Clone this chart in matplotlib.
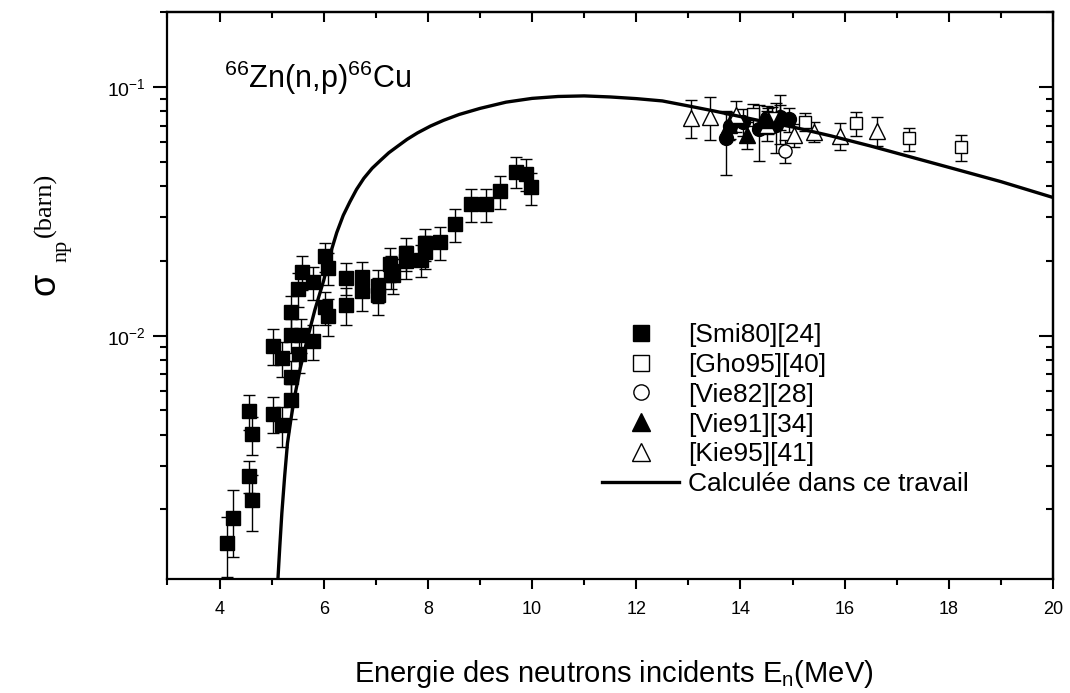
import numpy as np
import matplotlib
matplotlib.use('Agg')
import matplotlib.pyplot as plt
from matplotlib.lines import Line2D
from matplotlib.ticker import MultipleLocator, LogLocator, LogFormatterSciNotation, NullFormatter

plt.rcParams['font.family'] = ['Liberation Sans', 'DejaVu Sans']
plt.rcParams['mathtext.fontset'] = 'custom'
plt.rcParams['mathtext.rm'] = 'Liberation Serif'
plt.rcParams['mathtext.it'] = 'Liberation Sans'
plt.rcParams['mathtext.sf'] = 'Liberation Sans'

# [Smi80][24]  filled squares
smi_E = [4.15, 4.25, 4.57, 4.63, 4.57, 4.63, 5.03, 5.19, 5.03, 5.19,
         5.38, 5.38, 5.38, 5.38, 5.50, 5.59, 5.56, 5.53, 5.79, 5.79,
         6.03, 6.08, 6.03, 6.08, 6.43, 6.43, 6.73, 6.73, 7.04, 7.04,
         7.27, 7.30, 7.33, 7.57, 7.57, 7.87, 7.94, 7.94, 8.23, 8.52,
         8.82, 9.11, 9.39, 9.69, 9.88, 9.98]
smi_s = [1.47e-3, 1.84e-3, 4.99e-3, 4.02e-3, 2.73e-3, 2.19e-3, 9.1e-3, 8.1e-3, 4.85e-3, 4.36e-3,
         1.25e-2, 1.01e-2, 6.8e-3, 5.5e-3, 1.54e-2, 1.81e-2, 1.01e-2, 8.4e-3, 1.64e-2, 9.5e-3,
         2.09e-2, 1.88e-2, 1.30e-2, 1.20e-2, 1.71e-2, 1.33e-2, 1.73e-2, 1.51e-2, 1.59e-2, 1.46e-2,
         1.95e-2, 1.82e-2, 1.75e-2, 2.15e-2, 1.99e-2, 2.02e-2, 2.35e-2, 2.18e-2, 2.38e-2, 2.82e-2,
         3.38e-2, 3.38e-2, 3.81e-2, 4.57e-2, 4.48e-2, 3.95e-2]
smi_err = [0.4e-3, 0.55e-3, 0.8e-3, 0.7e-3, 0.4e-3, 0.55e-3, 1.5e-3, 1.3e-3, 0.8e-3, 0.8e-3,
           2.0e-3, 1.6e-3, 1.1e-3, 0.9e-3, 2.4e-3, 2.8e-3, 1.6e-3, 1.3e-3, 2.5e-3, 1.5e-3,
           2.8e-3, 2.8e-3, 2.0e-3, 2.0e-3, 2.5e-3, 2.3e-3, 2.5e-3, 2.5e-3, 2.4e-3, 2.5e-3,
           3.0e-3, 2.8e-3, 2.8e-3, 3.3e-3, 3.0e-3, 3.0e-3, 3.5e-3, 3.3e-3, 3.6e-3, 4.3e-3,
           5.2e-3, 5.2e-3, 5.8e-3, 6.5e-3, 6.5e-3, 5.8e-3]

# [Gho95][40]  open squares
gho_E = [14.24, 14.60, 15.23, 16.22, 17.23, 18.23]
gho_s = [7.8e-2, 7.5e-2, 7.27e-2, 7.16e-2, 6.22e-2, 5.73e-2]
gho_err = [0.8e-2, 0.8e-2, 0.6e-2, 0.77e-2, 0.66e-2, 0.67e-2]

# [Vie82][28]  open circle
vie82_E = [14.86]
vie82_s = [5.55e-2]
vie82_err = [0.6e-2]

# [Vie91][34]  filled triangles
vie91_E = [13.78, 14.12, 14.52, 14.76]
vie91_s = [7.05e-2, 6.43e-2, 7.38e-2, 7.62e-2]
vie91_err = [0.9e-2, 0.8e-2, 0.9e-2, 0.9e-2]

# [Kie95][41]  open triangles
kie_E = [13.06, 13.42, 13.91, 14.51, 15.03, 15.42, 15.92, 16.62]
kie_s = [7.55e-2, 7.62e-2, 7.7e-2, 7.05e-2, 6.43e-2, 6.63e-2, 6.37e-2, 6.68e-2]
kie_err = [1.3e-2, 1.5e-2, 1.1e-2, 1.0e-2, 0.7e-2, 0.6e-2, 0.8e-2, 0.9e-2]

# extra filled circles (not in legend)
fc_E = [13.72, 13.79, 14.04, 14.36, 14.51, 14.68, 14.75, 14.94]
fc_s = [6.22e-2, 6.98e-2, 7.27e-2, 6.77e-2, 7.5e-2, 7.05e-2, 7.62e-2, 7.43e-2]
fc_err = [1.8e-2, 0.8e-2, 0.9e-2, 1.7e-2, 0.9e-2, 1.6e-2, 1.7e-2, 0.8e-2]

# calculated curve
calc_E = [5.10, 5.12, 5.157, 5.196, 5.25, 5.304, 5.37, 5.44, 5.55, 5.68, 5.83, 6.0, 6.125, 6.25,
          6.375, 6.5, 6.63, 6.77, 6.93, 7.1, 7.25, 7.41, 7.6, 7.8, 8.05, 8.3, 8.6, 9.0, 9.5, 10.0,
          10.5, 11.0, 11.5, 12.0, 12.5, 13.0, 13.5, 14.0, 14.5, 15.0, 15.74, 16.5, 17.0, 18.0,
          19.0, 20.0]
calc_s = [8.9e-4, 1.04e-3, 1.42e-3, 1.93e-3, 2.72e-3, 3.69e-3, 4.6e-3, 5.67e-3, 7.4e-3, 9.6e-3,
          1.27e-2, 1.67e-2, 2.13e-2, 2.6e-2, 3.05e-2, 3.45e-2, 3.88e-2, 4.3e-2, 4.72e-2, 5.1e-2,
          5.45e-2, 5.77e-2, 6.17e-2, 6.55e-2, 6.98e-2, 7.36e-2, 7.77e-2, 8.22e-2, 8.71e-2, 9.02e-2,
          9.18e-2, 9.23e-2, 9.14e-2, 9.0e-2, 8.81e-2, 8.41e-2, 8.02e-2, 7.62e-2, 7.24e-2, 6.92e-2,
          6.37e-2, 5.8e-2, 5.43e-2, 4.76e-2, 4.17e-2, 3.6e-2]

fig = plt.figure(figsize=(10.7, 6.93), dpi=100)
ax = fig.add_axes([0.1565, 0.164, 0.8276, 0.818])

eb = dict(ecolor='black', elinewidth=1.0, capsize=4.5, capthick=1.0, linestyle='none', zorder=2)
ax.errorbar(smi_E, smi_s, yerr=smi_err, marker='s', ms=9.5, mfc='black', mec='black', **eb)
ax.errorbar(fc_E, fc_s, yerr=fc_err, marker='o', ms=10, mfc='black', mec='black', **eb)
ax.errorbar(gho_E, gho_s, yerr=gho_err, marker='s', ms=9, mfc='white', mec='black', mew=1.0, **eb)
ax.errorbar(vie82_E, vie82_s, yerr=vie82_err, marker='o', ms=9.5, mfc='white', mec='black', mew=1.0, **eb)
ax.errorbar(kie_E, kie_s, yerr=kie_err, marker='^', ms=11, mfc='white', mec='black', mew=1.0, **eb)
ax.errorbar(vie91_E, vie91_s, yerr=vie91_err, marker='^', ms=11, mfc='black', mec='black', **eb)
ax.plot(calc_E, calc_s, color='black', lw=2.4, zorder=3)

ax.set_yscale('log')
ax.set_xlim(3, 20)
ax.set_ylim(1.045e-3, 0.2)

ax.xaxis.set_major_locator(MultipleLocator(2))
ax.xaxis.set_minor_locator(MultipleLocator(1))
ax.yaxis.set_major_locator(LogLocator(base=10, numticks=10))
ax.yaxis.set_minor_locator(LogLocator(base=10, subs=np.arange(2, 10), numticks=10))
ax.yaxis.set_major_formatter(LogFormatterSciNotation())
ax.yaxis.set_minor_formatter(NullFormatter())
ax.tick_params(axis='x', which='major', direction='out', length=7.5, width=1.5, labelsize=13, pad=8)
ax.tick_params(axis='x', which='minor', direction='out', length=4, width=1.5)
ax.tick_params(axis='y', which='major', direction='out', length=10, width=1.5, labelsize=14, pad=6)
ax.tick_params(axis='y', which='minor', direction='out', length=5, width=1.5)
for sp in ax.spines.values():
    sp.set_linewidth(1.6)

top = ax.secondary_xaxis('top')
top.xaxis.set_major_locator(MultipleLocator(2))
top.xaxis.set_minor_locator(MultipleLocator(1))
top.tick_params(which='major', direction='in', length=7.5, width=1.5, labeltop=False)
top.tick_params(which='minor', direction='in', length=4, width=1.5)
top.spines['top'].set_linewidth(1.6)

right = ax.secondary_yaxis('right')
right.yaxis.set_major_locator(LogLocator(base=10, numticks=10))
right.yaxis.set_minor_locator(LogLocator(base=10, subs=np.arange(2, 10), numticks=10))
right.tick_params(which='major', direction='in', length=10, width=1.5, labelright=False)
right.tick_params(which='minor', direction='in', length=5, width=1.5, labelright=False)
right.spines['right'].set_linewidth(1.6)

ax.text(0.0638, 0.8666, r'$^{\mathsf{66}}$Zn(n,p)$^{\mathsf{66}}$Cu', transform=ax.transAxes,
        fontsize=22, va='baseline', ha='left')

fig.text(0.574, 1 - 682 / 693, r'Energie des neutrons incidents E$_{\mathsf{n}}$(MeV)',
         fontsize=21, ha='center', va='baseline')

fig.text(45 / 1070, 1 - 284 / 693, 'σ', fontsize=26, rotation=90, ha='center', va='center')
fig.text(62 / 1070, 1 - 251 / 693, 'np', fontsize=16, rotation=90, ha='center', va='center',
         family='Liberation Serif')
fig.text(45 / 1070, 1 - 205 / 693, '(barn)', fontsize=19, rotation=90, ha='center', va='center',
         family='Liberation Serif')

handles = [
    Line2D([], [], marker='s', ls='none', ms=12, mfc='black', mec='black'),
    Line2D([], [], marker='s', ls='none', ms=11, mfc='white', mec='black', mew=1.0),
    Line2D([], [], marker='o', ls='none', ms=11, mfc='white', mec='black', mew=1.0),
    Line2D([], [], marker='^', ls='none', ms=13, mfc='black', mec='black'),
    Line2D([], [], marker='^', ls='none', ms=13, mfc='white', mec='black', mew=1.0),
    Line2D([], [], color='black', lw=2.4),
]
labels = ['[Smi80][24]', '[Gho95][40]', '[Vie82][28]', '[Vie91][34]', '[Kie95][41]',
          'Calculée dans ce travail']
ax.legend(handles, labels, loc='upper left', bbox_to_anchor=(0.491, 0.452), frameon=False,
          fontsize=19, borderpad=0, borderaxespad=0, handlelength=2.9, handletextpad=0.35,
          labelspacing=0.22)

fig.savefig('out.png', dpi=100)
